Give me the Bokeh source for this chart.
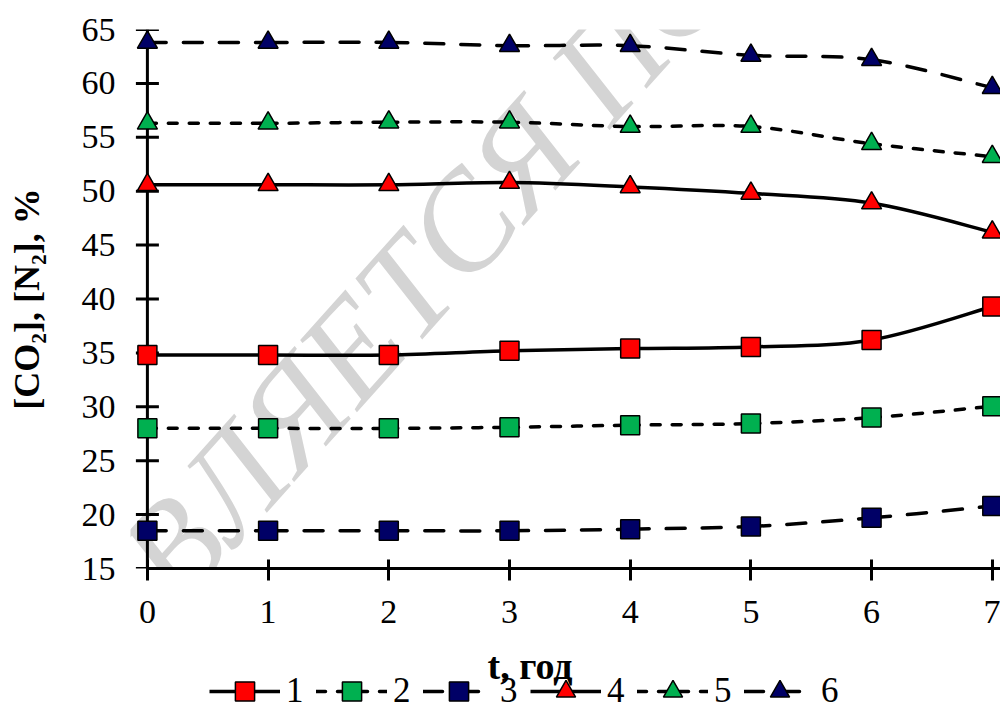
import numpy as np
from bokeh.plotting import figure
from bokeh.layouts import column
from bokeh.models import (ColumnDataSource, Range1d, FixedTicker, Legend, LegendItem, Label, Span)
from bokeh.embed import file_html
from bokeh.resources import INLINE

# ---------------- data ----------------
t_years = [0, 1, 2, 3, 4, 5, 6, 7]
s1 = [34.8, 34.8, 34.8, 35.2, 35.4, 35.55, 36.2, 39.3]
s2 = [28.0, 28.0, 28.0, 28.1, 28.3, 28.45, 29.0, 30.05]
s3 = [18.5, 18.5, 18.5, 18.5, 18.65, 18.9, 19.7, 20.8]
s4 = [50.6, 50.6, 50.6, 50.8, 50.4, 49.8, 48.9, 46.2]
s5 = [56.3, 56.3, 56.4, 56.4, 56.0, 56.0, 54.4, 53.2]
s6 = [63.8, 63.8, 63.8, 63.5, 63.5, 62.6, 62.2, 59.6]
series_labels = ["1", "2", "3", "4", "5", "6"]
y_ticks = [15, 20, 25, 30, 35, 40, 45, 50, 55, 60, 65]
x_ticks = [0, 1, 2, 3, 4, 5, 6, 7]
x_title = "t, год"
y_title = "[CO\u2082], [N\u2082], %"
watermark = "ЯВЛЯЕТСЯ ПО"

FONT = "Liberation Serif"
RED, GREEN, NAVY = "#FF0000", "#00B050", "#000066"


def smooth(x, y):
    """Excel-like smoothed line as cubic Bezier segments through the data points."""
    x = np.asarray(x, float)
    y = np.asarray(y, float)
    n = len(x)
    xe = np.concatenate([x[:1], x, x[-1:]])
    ye = np.concatenate([y[:1], y, y[-1:]])
    return dict(
        x0=x[:-1], y0=y[:-1], x1=x[1:], y1=y[1:],
        cx0=x[:-1] + (xe[2:n + 1] - xe[0:n - 1]) / 6.0,
        cy0=y[:-1] + (ye[2:n + 1] - ye[0:n - 1]) / 6.0,
        cx1=x[1:] - (xe[3:n + 2] - xe[1:n]) / 6.0,
        cy1=y[1:] - (ye[3:n + 2] - ye[1:n]) / 6.0,
    )


specs = [
    (s1, "square", RED, None),
    (s2, "square", GREEN, "9 12"),
    (s3, "square", NAVY, "19 17"),
    (s4, "triangle", RED, None),
    (s5, "triangle", GREEN, "9 12"),
    (s6, "triangle", NAVY, "19 17"),
]


def line_style(dash):
    st = dict(line_color="black", line_width=3.5)
    if dash is not None:
        st.update(line_dash=dash, line_cap="round")
    return st


def marker_style(marker, color):
    return dict(marker=marker, size=19 if marker == "square" else 20, fill_color=color,
                line_color="black", line_width=1.5)


# =============== main chart ===============
p = figure(width=1000, height=637, output_backend="svg", toolbar_location=None,
           x_range=Range1d(-0.14, 7.068), y_range=Range1d(15, 65),
           min_border_left=130, min_border_right=0, min_border_top=29, min_border_bottom=69)
p.background_fill_color = "white"
p.border_fill_color = "white"
p.outline_line_color = None
p.grid.visible = False

# watermark (behind everything)
p.add_layout(Label(x=10, y=-130, x_units="screen", y_units="screen", text=watermark,
                   angle=0.84, text_font=FONT, text_font_style="italic",
                   text_font_size="138px", text_color="#D4D4D4", level="underlay"))

# x axis
xa = p.xaxis[0]
xa.ticker = FixedTicker(ticks=x_ticks)
xa.bounds = (0, 7.068)
xa.axis_line_width = 3
xa.axis_line_color = "black"
xa.major_tick_line_width = 3
xa.major_tick_line_color = "black"
xa.minor_tick_line_color = None
xa.major_tick_in = 9
xa.major_tick_out = 12
xa.major_label_standoff = 20
xa.major_label_text_font = FONT
xa.major_label_text_font_size = "34px"
xa.major_label_text_color = "black"

# y axis: tick labels + title (its line and ticks are drawn at t = 0 below)
ya = p.yaxis[0]
ya.ticker = FixedTicker(ticks=y_ticks)
ya.axis_line_color = None
ya.major_tick_line_color = None
ya.minor_tick_line_color = None
ya.major_tick_in = 0
ya.major_tick_out = 0
ya.major_label_standoff = 15
ya.major_label_text_font = FONT
ya.major_label_text_font_size = "34px"
ya.major_label_text_color = "black"
ya.axis_label = y_title
ya.axis_label_standoff = 32
ya.axis_label_text_font = FONT
ya.axis_label_text_font_style = "bold"
ya.axis_label_text_font_size = "36px"
ya.axis_label_text_color = "black"

p.add_layout(Span(location=0, dimension="height", line_color="black", line_width=3,
                  level="underlay"))
p.scatter(x=[0] * len(y_ticks), y=y_ticks, marker="dash", size=23,
          line_color="black", line_width=3)

for vals, marker, color, dash in specs:
    p.bezier(x0="x0", y0="y0", x1="x1", y1="y1", cx0="cx0", cy0="cy0", cx1="cx1", cy1="cy1",
             source=ColumnDataSource(smooth(t_years, vals)), **line_style(dash))
for vals, marker, color, dash in specs:
    p.scatter(x=t_years, y=vals, **marker_style(marker, color))

# =============== strip below: x title + legend ===============
# (its frame is aligned with the main chart's frame, i.e. starts 130 px from the left)
b = figure(width=1000, height=72, output_backend="svg", toolbar_location=None,
           x_axis_type=None, y_axis_type=None,
           x_range=Range1d(0, 1), y_range=Range1d(1000, 1001),   # series kept out of view here
           min_border_left=0, min_border_right=0, min_border_top=0, min_border_bottom=0)
b.background_fill_color = "white"
b.border_fill_color = "white"
b.outline_line_color = None

b.add_layout(Label(x=357, y=44, x_units="screen", y_units="screen", text=x_title,
                   text_align="left", text_baseline="alphabetic", text_font=FONT,
                   text_font_style="bold", text_font_size="38px", text_color="black"))

items = []
for lab, (vals, marker, color, dash) in zip(series_labels, specs):
    lr = b.line(x=t_years, y=vals, **line_style(dash))
    mr = b.scatter(x=t_years, y=vals, **marker_style(marker, color))
    items.append(LegendItem(label=lab, renderers=[lr, mr]))

legend = Legend(items=items, orientation="horizontal", location=(79, -6),
                glyph_width=71, glyph_height=48, label_standoff=6, spacing=10,
                padding=0, margin=0, border_line_color=None, background_fill_alpha=0,
                label_text_font=FONT, label_text_font_size="35px", label_text_color="black")
b.add_layout(legend)

open("out.html", "w").write(file_html(column(p, b), INLINE))
